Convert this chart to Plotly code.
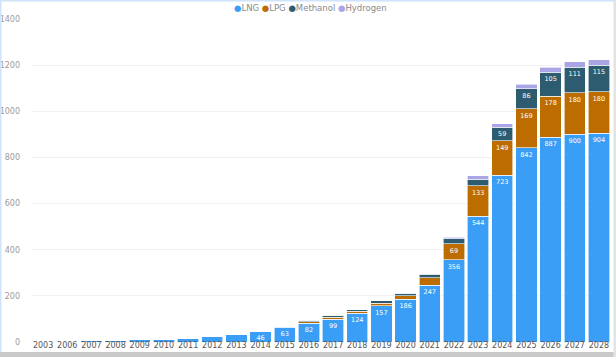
import plotly.graph_objects as go

years = ["2003", "2006", "2007", "2008", "2009", "2010", "2011", "2012", "2013", "2014",
         "2015", "2016", "2017", "2018", "2019", "2020", "2021", "2022", "2023", "2024",
         "2025", "2026", "2027", "2028"]
lng = [2, 3, 6, 7, 9, 12, 17, 26, 33, 46, 63, 82, 99, 124, 157, 186, 247, 356, 544, 723, 842, 887, 900, 904]
lpg = [0, 0, 0, 0, 0, 0, 0, 0, 1, 1, 3, 6, 9, 9, 12, 14, 32, 69, 133, 149, 169, 178, 180, 180]
methanol = [0, 0, 0, 0, 0, 0, 0, 0, 0, 1, 1, 6, 7, 6, 9, 10, 14, 23, 29, 59, 86, 105, 111, 115]
hydrogen = [0, 0, 0, 0, 0, 0, 0, 0, 0, 0, 0, 1, 1, 1, 1, 1, 2, 6, 15, 14, 21, 20, 23, 25]

lng_lbl_min = 40
lpg_lbl_min = 60
meth_lbl_min = 50

names = ["LNG", "LPG", "Methanol", "Hydrogen"]
colors = {"LNG": "#3a9ef6", "LPG": "#bd6d00", "Methanol": "#2d5c70", "Hydrogen": "#aaa6e6"}

W, H = 616, 357
L, R, T, B = 31, 5, 19, 15
PW, PH = W - L - R, H - T - B


def px_x(x):
    return (x - L) / PW


def px_y(y):
    return (H - B - y) / PH


def labels(vals, mn):
    return [str(v) if v >= mn else "" for v in vals]


fig = go.Figure()
series = [("LNG", lng, lng_lbl_min), ("LPG", lpg, lpg_lbl_min),
          ("Methanol", methanol, meth_lbl_min), ("Hydrogen", hydrogen, 10**9)]
for name, vals, mn in series:
    fig.add_trace(go.Bar(
        x=years, y=vals, name=name, showlegend=False,
        marker=dict(color=colors[name], line=dict(color="white", width=0.6)),
        text=labels(vals, mn), textposition="inside", insidetextanchor="end",
        textfont=dict(color="white", size=6.5, family="DejaVu Sans"),
        textangle=0, constraintext="none",
    ))

legend_text = " ".join(
    f"<span style='color:{colors[n]}'>●</span>{n}" for n in names)

fig.update_layout(
    width=W, height=H,
    barmode="stack", bargap=0.12,
    margin=dict(l=L, r=R, t=T, b=B, autoexpand=False),
    paper_bgcolor="white", plot_bgcolor="white",
    font=dict(family="DejaVu Sans", size=9, color="#888888"),
    uniformtext=dict(minsize=6, mode="show"),
    showlegend=False,
    xaxis=dict(type="category", showgrid=False, showline=False, ticks="", automargin=False,
               tickfont=dict(size=8, color="#555555"), ticklabelstandoff=-3),
    yaxis=dict(range=[0, 1400], dtick=200, showgrid=True, gridcolor="#f0f0f0",
               gridwidth=1, zeroline=False, ticks="", automargin=False,
               tickfont=dict(size=8, color="#9a9a9a"), ticklabelstandoff=10),
)

fig.add_annotation(text=legend_text, xref="paper", yref="paper",
                   x=px_x(310), y=px_y(8), xanchor="center", yanchor="middle",
                   showarrow=False, font=dict(size=8.5, color="#8a8a8a", family="DejaVu Sans"))

# screenshot frame
frame = [
    (0, 0, W, 1.5, "#cfe4fa"),
    (0, 0, 1.5, H, "#cfe4fa"),
    (0, 352, W, H, "#c9c9c9"),
    (613.5, 0, W, H, "#e3e3e3"),
]
for x0, y0, x1, y1, c in frame:
    fig.add_shape(type="rect", xref="paper", yref="paper",
                  x0=px_x(x0), x1=px_x(x1), y0=px_y(y1), y1=px_y(y0),
                  line=dict(width=0), fillcolor=c, layer="above")

fig.write_html("out.html", config={"displayModeBar": False},
               post_script="document.body.style.margin='0';")
